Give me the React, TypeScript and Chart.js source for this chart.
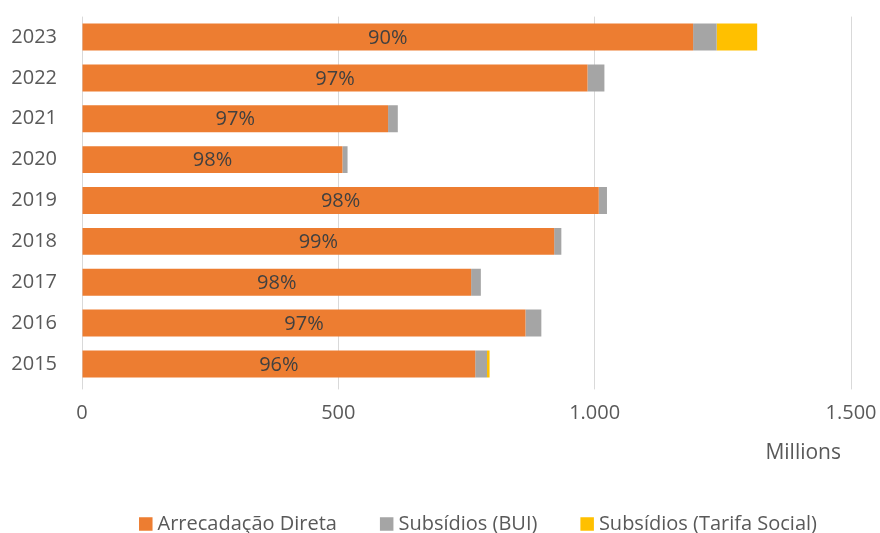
import React, { useEffect, useRef } from "react";
import { Chart, registerables } from "chart.js";

Chart.register(...registerables);

const years = ["2023", "2022", "2021", "2020", "2019", "2018", "2017", "2016", "2015"];
const arrecadacao = [1192, 986, 597, 508, 1008, 921, 759, 865, 767];
const subsidiosBUI = [46, 33, 19, 10, 16, 14, 19, 31, 23];
const subsidiosTarifa = [79, 0, 0, 0, 0, 0, 0, 0, 5];
const pctLabels = ["90%", "97%", "97%", "98%", "98%", "99%", "98%", "97%", "96%"];
const seriesNames = ["Arrecadação Direta", "Subsídios (BUI)", "Subsídios (Tarifa Social)"];
const seriesColors = ["#ED7D31", "#A5A5A5", "#FFC000"];
const xTitle = "Millions";

const FONT = "'Open Sans', sans-serif";
const TEXT = "#595959";

const extrasPlugin = {
  id: "extras",
  afterDatasetsDraw(chart: any) {
    const meta = chart.getDatasetMeta(0);
    const ctx = chart.ctx;
    ctx.save();
    ctx.font = `20px ${FONT}`;
    ctx.fillStyle = "#404040";
    ctx.textAlign = "center";
    ctx.textBaseline = "middle";
    meta.data.forEach((el: any, i: number) => {
      const x = (el.x + el.base) / 2;
      ctx.fillText(pctLabels[i], x, el.y + 1);
    });
    ctx.restore();
  },
  afterDraw(chart: any) {
    const ctx = chart.ctx;
    const area = chart.chartArea;
    ctx.save();
    // axis title
    ctx.font = `21px ${FONT}`;
    ctx.fillStyle = TEXT;
    ctx.textAlign = "right";
    ctx.textBaseline = "middle";
    ctx.fillText(xTitle, area.right - 10, 453);
    // legend
    ctx.font = `20px ${FONT}`;
    const box = 13.5;
    const gapText = 5;
    const gapItem = 43;
    const widths = chart.data.datasets.map((d: any) => ctx.measureText(d.label).width);
    const total =
      widths.reduce((a: number, w: number) => a + box + gapText + w, 0) + gapItem * (widths.length - 1);
    let x = 478 - total / 2;
    const yMid = 524;
    ctx.textAlign = "left";
    chart.data.datasets.forEach((d: any, i: number) => {
      ctx.fillStyle = d.backgroundColor;
      ctx.fillRect(x, yMid - box / 2, box, box);
      x += box + gapText;
      ctx.fillStyle = TEXT;
      ctx.fillText(d.label, x, yMid);
      x += widths[i] + gapItem;
    });
    ctx.restore();
  },
};

export default function App() {
  const ref = useRef<HTMLCanvasElement>(null);
  useEffect(() => {
    document.body.style.margin = "0";
    const chart = new Chart(ref.current!, {
      type: "bar",
      data: {
        labels: years,
        datasets: [
          { label: seriesNames[0], data: arrecadacao, backgroundColor: seriesColors[0] },
          { label: seriesNames[1], data: subsidiosBUI, backgroundColor: seriesColors[1] },
          { label: seriesNames[2], data: subsidiosTarifa, backgroundColor: seriesColors[2] },
        ],
      },
      options: {
        indexAxis: "y",
        animation: false,
        responsive: false,
        maintainAspectRatio: false,
        datasets: { bar: { categoryPercentage: 1, barPercentage: 0.66 } },
        layout: { padding: { top: 16.6, right: 29, left: 0, bottom: 148.6 - 45 } },
        scales: {
          x: {
            stacked: true,
            min: 0,
            max: 1500,
            ticks: {
              stepSize: 500,
              color: TEXT,
              font: { family: FONT, size: 20 },
              padding: 12,
              callback: (v: any) => Number(v).toLocaleString("de-DE"),
            },
            grid: { color: "#D9D9D9", tickLength: 5, drawTicks: true },
            border: { display: false },
            afterFit: (s: any) => {
              s.height = 45;
              s.paddingLeft = 0;
              s.paddingRight = 0;
            },
          },
          y: {
            stacked: true,
            ticks: { color: TEXT, font: { family: FONT, size: 20 }, padding: 25 },
            grid: { display: false, drawTicks: false },
            border: { display: false },
            afterFit: (s: any) => {
              s.width = 82;
              s.paddingTop = 0;
              s.paddingBottom = 0;
            },
          },
        },
        plugins: {
          legend: { display: false },
          tooltip: { enabled: false },
        },
      },
      plugins: [extrasPlugin],
    });
    return () => chart.destroy();
  }, []);
  return <canvas ref={ref} width={880} height={533} style={{ display: "block" }} />;
}
